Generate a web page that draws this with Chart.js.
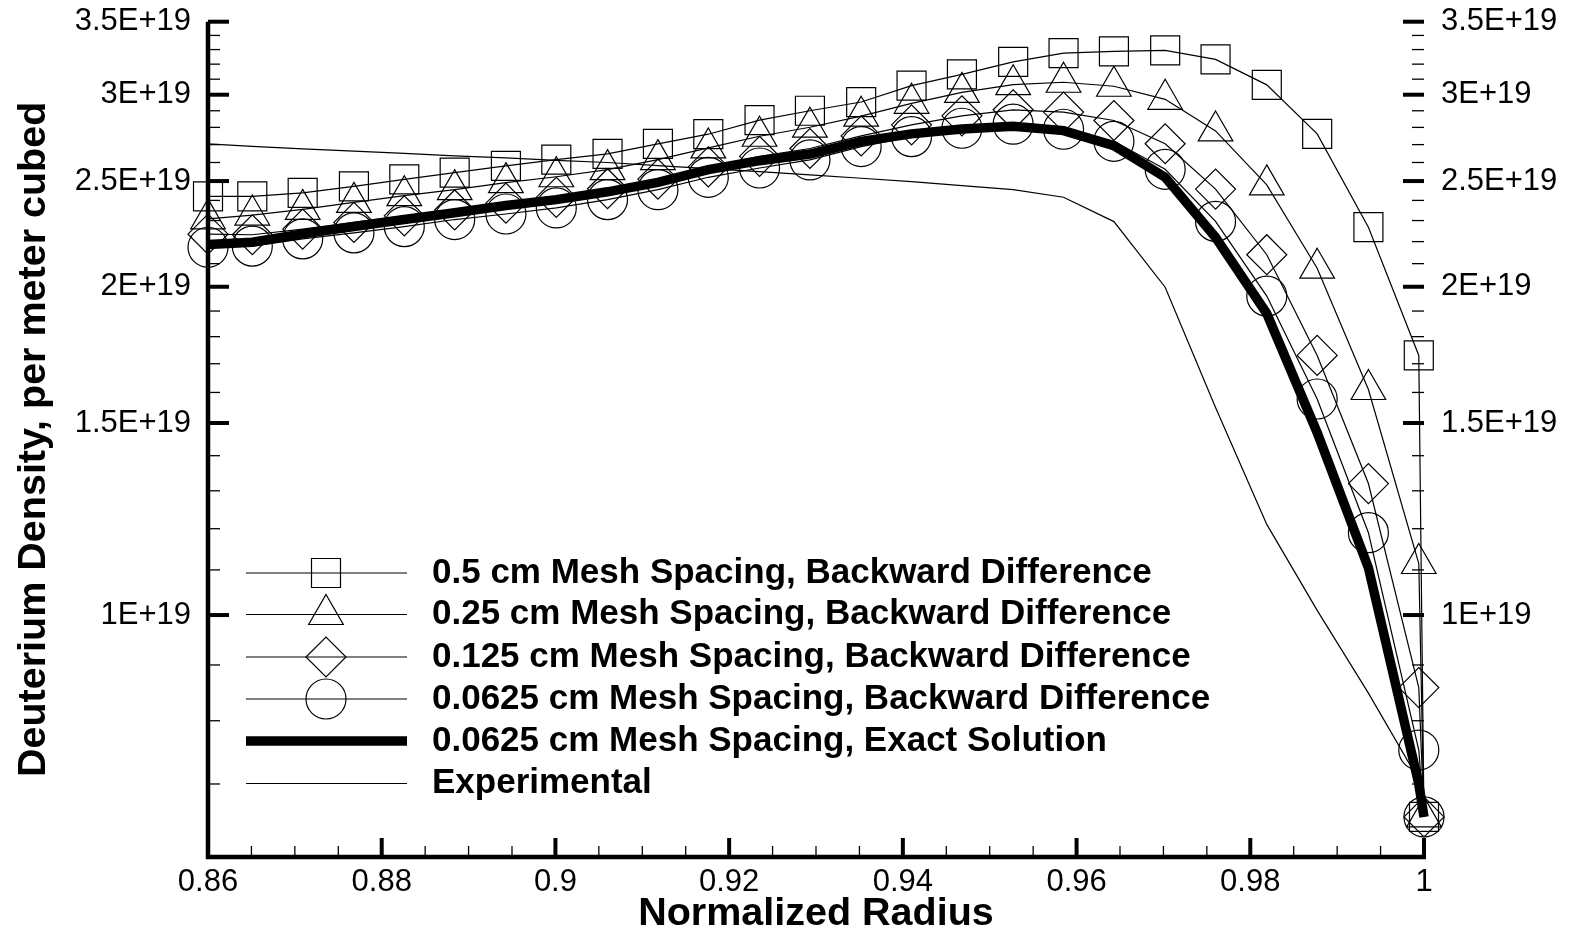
<!DOCTYPE html>
<html>
<head>
<meta charset="utf-8">
<title>Deuterium Density</title>
<script src="https://cdn.jsdelivr.net/npm/chart.js@4.4.1/dist/chart.umd.min.js"></script>
<style>
  html, body { margin: 0; padding: 0; background: #fff; }
  .chart__wrapper { width: 1575px; height: 933px; }
</style>
</head>
<body>
<div class="chart__wrapper"><canvas id="density-chart"></canvas></div>
<script>
// normalized radius of each mesh node
const radius = [0.86, 0.8651, 0.8709, 0.8768, 0.8826, 0.8884, 0.8943, 0.9001, 0.9060,
  0.9118, 0.9176, 0.9235, 0.9293, 0.9352, 0.9410, 0.9468, 0.9527, 0.9585, 0.9643,
  0.9702, 0.9760, 0.9819, 0.9877, 0.9936, 0.9994, 1.0];

// deuterium density, in units of 1E+19 per m^3
const mesh05 = [2.42, 2.42, 2.438, 2.472, 2.509, 2.545, 2.581, 2.616, 2.648, 2.704, 2.760,
  2.843, 2.900, 2.954, 3.058, 3.132, 3.215, 3.275, 3.288, 3.294, 3.232, 3.063, 2.762,
  2.268, 1.730, 0.653];
const mesh025 = [2.308, 2.327, 2.355, 2.390, 2.424, 2.455, 2.492, 2.523, 2.561, 2.616,
  2.681, 2.748, 2.801, 2.867, 2.946, 3.015, 3.064, 3.080, 3.054, 2.971, 2.779, 2.480,
  2.080, 1.610, 1.115, 0.653];
const mesh0125 = [2.235, 2.232, 2.259, 2.291, 2.323, 2.352, 2.386, 2.415, 2.460, 2.510,
  2.576, 2.634, 2.678, 2.750, 2.815, 2.869, 2.906, 2.892, 2.841, 2.705, 2.458, 2.140,
  1.730, 1.320, 0.858, 0.653];
const mesh00625 = [2.174, 2.179, 2.213, 2.241, 2.271, 2.305, 2.332, 2.362, 2.404, 2.455,
  2.520, 2.570, 2.614, 2.689, 2.746, 2.795, 2.819, 2.789, 2.719, 2.563, 2.296, 1.961,
  1.578, 1.190, 0.752, 0.653];
const exact00625 = [2.187, 2.197, 2.236, 2.271, 2.305, 2.338, 2.374, 2.404, 2.444, 2.493,
  2.561, 2.610, 2.647, 2.719, 2.762, 2.791, 2.807, 2.781, 2.694, 2.520, 2.220, 1.890,
  1.470, 1.105, 0.700, 0.653];
const experimental = [2.704, 2.690, 2.676, 2.663, 2.650, 2.637, 2.625, 2.612, 2.600, 2.583,
  2.567, 2.550, 2.533, 2.515, 2.497, 2.476, 2.455, 2.416, 2.295, 1.998, 1.550, 1.211,
  1.010, 0.848, 0.706, 0.653];

const seriesNames = [
  "0.5 cm Mesh Spacing, Backward Difference",
  "0.25 cm Mesh Spacing, Backward Difference",
  "0.125 cm Mesh Spacing, Backward Difference",
  "0.0625 cm Mesh Spacing, Backward Difference",
  "0.0625 cm Mesh Spacing, Exact Solution",
  "Experimental",
];

const xTickValues = [0.86, 0.88, 0.9, 0.92, 0.94, 0.96, 0.98, 1];
const xTickLabels = ["0.86", "0.88", "0.9", "0.92", "0.94", "0.96", "0.98", "1"];
const yTickValues = [1e19, 1.5e19, 2e19, 2.5e19, 3e19, 3.5e19];
const yTickLabels = ["1E+19", "1.5E+19", "2E+19", "2.5E+19", "3E+19", "3.5E+19"];

const FONT = "'Liberation Sans', Arial, Helvetica, sans-serif";

function toPoints(values) {
  return radius.map((r, i) => ({ x: r, y: values[i] * 1e19 }));
}

function symbolSeries(label, values, style, size) {
  return {
    label,
    data: toPoints(values),
    borderColor: "#000",
    borderWidth: 1.2,
    pointStyle: style,
    pointRadius: size,
    pointBorderColor: "#000",
    pointBorderWidth: 1.2,
    pointBackgroundColor: "rgba(0,0,0,0)",
    clip: false,
  };
}

const datasets = [
  symbolSeries(seriesNames[0], mesh05, "rect", 20.5),
  symbolSeries(seriesNames[1], mesh025, "triangle", 20),
  symbolSeries(seriesNames[2], mesh0125, "rectRot", 20),
  symbolSeries(seriesNames[3], mesh00625, "circle", 20),
  {
    label: seriesNames[4],
    data: toPoints(exact00625),
    borderColor: "#000",
    borderWidth: 9.5,
    pointRadius: 0,
    clip: false,
  },
  {
    label: seriesNames[5],
    data: toPoints(experimental),
    borderColor: "#000",
    borderWidth: 1.2,
    pointRadius: 0,
    clip: false,
  },
];

// inward tick marks and the left / bottom axis lines
const axisFrame = {
  id: "axisFrame",
  afterDatasetsDraw(chart) {
    const { ctx, chartArea: a, scales: { x, y } } = chart;
    const line = (x1, y1, x2, y2, w) => {
      ctx.lineWidth = w;
      ctx.beginPath();
      ctx.moveTo(x1, y1);
      ctx.lineTo(x2, y2);
      ctx.stroke();
    };
    ctx.save();
    ctx.strokeStyle = "#000";
    ctx.lineCap = "butt";

    for (let m = 7; m <= 35; m++) {
      const v = m * 1e18;
      const py = y.getPixelForValue(v);
      const major = m % 5 === 0;
      const len = major ? 21 : 12;
      const w = major ? 4 : 1.3;
      line(a.left, py, a.left + len, py, w);
      line(a.right - len, py, a.right, py, w);
    }

    for (let k = 0; k <= 28; k++) {
      const v = 0.86 + k * 0.005;
      const px = x.getPixelForValue(v);
      const major = k % 4 === 0;
      line(px, a.bottom, px, a.bottom - (major ? 19 : 11), major ? 4 : 1.3);
    }

    line(a.left, a.top, a.left, a.bottom + 2, 4.5);
    line(a.left - 2, a.bottom, a.right + 2, a.bottom, 4.5);
    ctx.restore();
  },
};

// legend: line sample + symbol, then the series name
const legendBox = {
  id: "legendBox",
  afterDraw(chart) {
    const { ctx } = chart;
    const rows = [573, 614.5, 657, 699, 741, 783.5];
    ctx.save();
    chart.data.datasets.forEach((ds, i) => {
      const ry = rows[i];
      ctx.strokeStyle = "#000";
      ctx.lineWidth = ds.borderWidth;
      ctx.beginPath();
      ctx.moveTo(246, ry);
      ctx.lineTo(407, ry);
      ctx.stroke();
      if (ds.pointRadius > 0) {
        ctx.fillStyle = "rgba(0,0,0,0)";
        ctx.lineWidth = ds.pointBorderWidth;
        Chart.helpers.drawPoint(ctx, {
          pointStyle: ds.pointStyle,
          radius: ds.pointRadius,
          rotation: 0,
          borderWidth: ds.pointBorderWidth,
        }, 326, ry);
      }
      ctx.fillStyle = "#000";
      ctx.font = "bold 35px " + FONT;
      ctx.textAlign = "left";
      ctx.textBaseline = "middle";
      ctx.fillText(ds.label, 432, ry);
    });
    ctx.restore();
  },
};

const yTicksCommon = {
  color: "#000",
  font: { family: FONT, size: 31 },
  callback: (v, i) => yTickLabels[i],
};

// fixed scale sizes so the plot frame lands where the original has it
function fixVertical(width) {
  return (s) => {
    s.width = width;
    s.paddingTop = 0;
    s.paddingBottom = 0;
  };
}

new Chart(document.getElementById("density-chart"), {
  type: "line",
  data: { datasets },
  plugins: [axisFrame, legendBox],
  options: {
    responsive: true,
    maintainAspectRatio: false,
    animation: false,
    layout: { padding: { top: 21, left: 0, right: 0, bottom: 0 } },
    scales: {
      x: {
        type: "linear",
        min: 0.86,
        max: 1,
        grid: { display: false, drawTicks: false },
        border: { display: false },
        afterBuildTicks: (s) => { s.ticks = xTickValues.map((v) => ({ value: v })); },
        afterFit: (s) => { s.height = 76; },
        ticks: {
          color: "#000",
          autoSkip: false,
          maxRotation: 0,
          padding: 7,
          font: { family: FONT, size: 31 },
          callback: (v, i) => xTickLabels[i],
        },
        title: {
          display: true,
          text: "Normalized Radius",
          color: "#000",
          font: { family: FONT, size: 39.5, weight: "bold", lineHeight: 1 },
          padding: { top: 0, bottom: -1 },
        },
      },
      y: {
        type: "logarithmic",
        position: "left",
        min: 6e18,
        max: 3.5e19,
        grid: { display: false, drawTicks: false },
        border: { display: false },
        afterBuildTicks: (s) => { s.ticks = yTickValues.map((v) => ({ value: v })); },
        afterFit: fixVertical(208),
        ticks: { ...yTicksCommon, padding: 17 },
        title: {
          display: true,
          text: "Deuterium Density, per meter cubed",
          color: "#000",
          font: { family: FONT, size: 39.5, weight: "bold", lineHeight: 1 },
          padding: { top: 14, bottom: 0 },
        },
      },
      yRight: {
        type: "logarithmic",
        position: "right",
        min: 6e18,
        max: 3.5e19,
        grid: { display: false, drawTicks: false },
        border: { display: false },
        afterBuildTicks: (s) => { s.ticks = yTickValues.map((v) => ({ value: v })); },
        afterFit: fixVertical(151),
        ticks: { ...yTicksCommon, padding: 17 },
      },
    },
    plugins: {
      legend: { display: false },
      tooltip: { enabled: false },
    },
  },
});
</script>
</body>
</html>
